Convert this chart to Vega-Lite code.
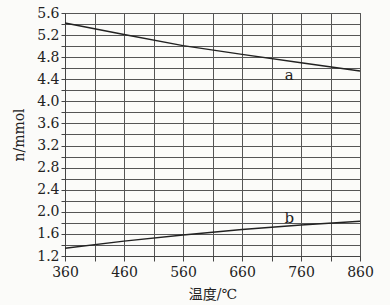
{
  "$schema": "https://vega.github.io/schema/vega-lite/v6.json",
  "width": 295,
  "height": 243,
  "autosize": {"type": "none"},
  "padding": {"left": 65, "top": 13, "right": 30, "bottom": 49},
  "background": "#fbfbf9",
  "config": {
    "view": {"stroke": "#444", "strokeWidth": 1},
    "font": "DejaVu Serif"
  },
  "datasets": {
    "lines": [
      {"t": 360, "n": 5.42, "s": "a"},
      {"t": 460, "n": 5.21, "s": "a"},
      {"t": 560, "n": 5.01, "s": "a"},
      {"t": 660, "n": 4.85, "s": "a"},
      {"t": 760, "n": 4.70, "s": "a"},
      {"t": 860, "n": 4.55, "s": "a"},
      {"t": 360, "n": 1.34, "s": "b"},
      {"t": 460, "n": 1.47, "s": "b"},
      {"t": 560, "n": 1.58, "s": "b"},
      {"t": 660, "n": 1.68, "s": "b"},
      {"t": 760, "n": 1.76, "s": "b"},
      {"t": 860, "n": 1.83, "s": "b"}
    ],
    "labels": [
      {"t": 740, "n": 4.48, "s": "a"},
      {"t": 740, "n": 1.89, "s": "b"}
    ]
  },
  "encoding": {
    "x": {
      "field": "t", "type": "quantitative",
      "scale": {"domain": [360, 860], "nice": false, "zero": false},
      "axis": {
        "title": "温度/℃",
        "titleFont": "DejaVu Serif, Noto Sans CJK SC",
        "titleFontSize": 14, "titleFontWeight": "normal", "titleColor": "#222",
        "titlePadding": 8,
        "values": [360, 410, 460, 510, 560, 610, 660, 710, 760, 810, 860],
        "labelExpr": "(datum.value - 360) % 100 == 0 ? datum.label : ''",
        "labelFont": "DejaVu Serif",
        "labelFontSize": 14, "labelColor": "#222", "labelPadding": 4,
        "labelFlush": false, "labelOverlap": false,
        "tickSize": 5, "tickColor": "#444", "domainColor": "#444",
        "grid": true, "gridColor": "#555", "gridWidth": 1, "gridOpacity": 1
      }
    },
    "y": {
      "field": "n", "type": "quantitative",
      "scale": {"domain": [1.2, 5.6], "nice": false, "zero": false},
      "axis": {
        "title": "n/mmol",
        "titleFont": "DejaVu Serif",
        "titleFontSize": 14, "titleFontWeight": "normal", "titleColor": "#222",
        "titlePadding": 10,
        "values": [1.2, 1.4, 1.6, 1.8, 2.0, 2.2, 2.4, 2.6, 2.8, 3.0, 3.2, 3.4, 3.6, 3.8, 4.0, 4.2, 4.4, 4.6, 4.8, 5.0, 5.2, 5.4, 5.6],
        "format": ".1f",
        "labelExpr": "round(datum.value * 10) % 4 == 0 ? datum.label : ''",
        "labelFont": "DejaVu Serif",
        "labelFontSize": 14, "labelColor": "#222", "labelPadding": 2,
        "labelFlush": false, "labelOverlap": false,
        "tickSize": 4, "tickColor": "#444", "domainColor": "#444",
        "grid": true, "gridColor": "#555", "gridWidth": 1, "gridOpacity": 1
      }
    }
  },
  "layer": [
    {
      "data": {"name": "lines"},
      "mark": {"type": "line", "color": "#222", "strokeWidth": 1.4},
      "encoding": {"detail": {"field": "s"}}
    },
    {
      "data": {"name": "labels"},
      "mark": {"type": "text", "fontSize": 15, "color": "#222", "font": "DejaVu Serif"},
      "encoding": {"text": {"field": "s"}}
    }
  ]
}
